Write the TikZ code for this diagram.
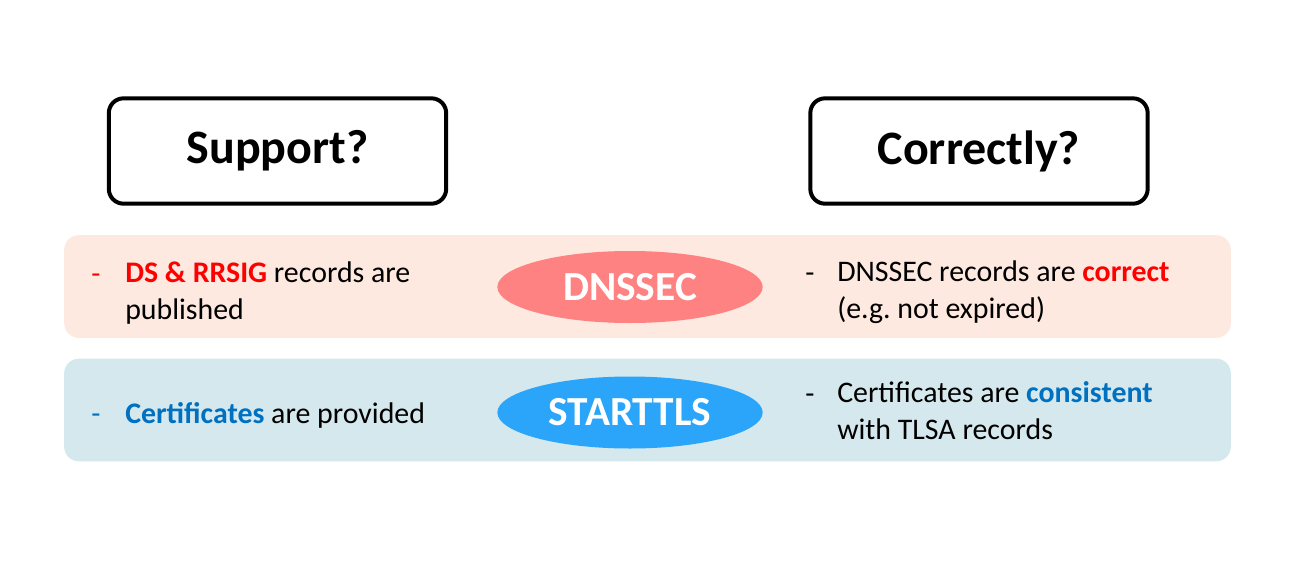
\documentclass[tikz,border=0pt]{standalone}
\usepackage{fontspec}
\setmainfont{Carlito}
\usepackage{xcolor}
\usepackage{tikz}
\usetikzlibrary{positioning,shapes.geometric}
\definecolor{bandpink}{RGB}{253,233,223}
\definecolor{bandblue}{RGB}{213,232,237}
\definecolor{dnsfill}{RGB}{255,130,130}
\definecolor{tlsfill}{RGB}{42,165,250}
\definecolor{hotred}{RGB}{255,0,0}
\definecolor{deepblue}{RGB}{0,112,192}
\begin{document}
\begin{tikzpicture}[x=0.75pt,y=-0.75pt,
        question/.style={draw, line width=3pt, rounded corners=11pt, minimum width=253pt, minimum height=79pt, font=\fontsize{36}{43}\selectfont\bfseries},
        band/.style={rounded corners=11pt, minimum width=875pt, minimum height=77pt, inner sep=0pt},
        proto/.style={ellipse, minimum width=199pt, minimum height=54pt, inner sep=0pt, text=white, font=\fontsize{31}{37}\selectfont\bfseries},
        item/.style={anchor=base west, align=left, inner sep=0pt, font=\fontsize{22.4}{27.5}\selectfont}]
        \useasboundingbox (0,0) rectangle (1290,575);
        % the two questions
        \foreach \x/\name/\txt in {277.5/support/Support?,979/correct/Correctly?}{\node[question] (\name) at (\x,151) {\txt};}
        % coloured bands with the protocols
        \foreach \y/\col/\name in {286.5/bandpink/dnsband,410/bandblue/tlsband}{\node[band, fill=\col] (\name) at (647.5,\y) {};}
        \node[proto, fill=dnsfill] (dnssec) at (630,287) {DNSSEC};
        \node[proto, fill=tlsfill] (starttls) at (630,412.5) {STARTTLS};
        % support side (base = last line)
        \node[item, text=hotred] (dnsdash) at (91,283) {-};
        \node[item] (dnssupport) at (125,319) {\textcolor{hotred}{\bfseries DS \& RRSIG} records are\\published};
        \node[item, text=deepblue] (tlsdash) at (91,423) {-};
        \node[item] (tlssupport) at (125,423) {\textcolor{deepblue}{\bfseries Certificates} are provided};
        % correctness side
        \node[item] (dnscheckdash) at (805,282) {-};
        \node[item] (dnscheck) at (837,318) {DNSSEC records are \textcolor{hotred}{\bfseries correct}\\(e.g.\ not expired)};
        \node[item] (tlscheckdash) at (805,403) {-};
        \node[item] (tlscheck) at (837,439) {Certificates are \textcolor{deepblue}{\bfseries consistent}\\with TLSA records};
\end{tikzpicture}
\end{document}
